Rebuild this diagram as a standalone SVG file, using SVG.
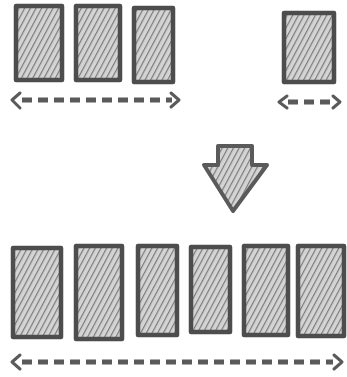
<svg xmlns="http://www.w3.org/2000/svg" width="347" height="377" viewBox="0 0 347 377">
<defs>
<pattern id="hatch" patternUnits="userSpaceOnUse" width="5" height="5" patternTransform="rotate(28)">
<rect width="5" height="5" fill="#d4d4d4"/>
<line x1="0" y1="0" x2="0" y2="5" stroke="#7a7a7a" stroke-width="2.4"/>
</pattern>
</defs>
<style>
.box{fill:url(#hatch);stroke:#4d4d4d;stroke-width:4.5;stroke-linejoin:round}
.dash{fill:none;stroke:#5a5a5a;stroke-width:5;stroke-dasharray:10 6;stroke-linecap:butt}
.head{fill:none;stroke:#5a5a5a;stroke-width:3;stroke-linecap:round;stroke-linejoin:round}
</style>
<rect width="347" height="377" fill="#ffffff"/>
<g id="top-row">
<g id="t1"><rect class="box" x="16" y="6" width="46" height="74"/></g>
<g id="t2"><rect class="box" x="76" y="6" width="44" height="74"/></g>
<g id="t3"><rect class="box" x="134" y="8" width="39" height="74"/></g>
<g id="t4"><rect class="box" x="284" y="13" width="50" height="69"/></g>
</g>
<g id="down-arrow">
<path d="M218,146 L252,146 L252,165 L267,165 L233,211 L204,165 L218,165 Z" fill="url(#hatch)" stroke="#5a5a5a" stroke-width="4" stroke-linejoin="round"/>
</g>
<g id="bottom-row">
<g id="b1"><rect class="box" x="13" y="248" width="48" height="89"/></g>
<g id="b2"><rect class="box" x="76" y="246" width="46" height="93"/></g>
<g id="b3"><rect class="box" x="138" y="246" width="39" height="89"/></g>
<g id="b4"><rect class="box" x="191" y="247" width="39" height="85"/></g>
<g id="b5"><rect class="box" x="244" y="246" width="44" height="89"/></g>
<g id="b6"><rect class="box" x="298" y="246" width="46" height="90"/></g>
</g>
<g id="connectors">
<line class="dash" x1="22" y1="100" x2="172" y2="100"/>
<path class="head" d="M20,93 L12,100 L20,108"/>
<path class="head" d="M171,93 L179,100 L171,107"/>
<line class="dash" x1="288" y1="102" x2="333" y2="102"/>
<path class="head" d="M287,96 L279,102 L287,108"/>
<path class="head" d="M333,96 L340,102 L333,108"/>
<line class="dash" x1="22" y1="362" x2="333" y2="362"/>
<path class="head" d="M20,355 L12,362 L20,369"/>
<path class="head" d="M334,355 L342,362 L334,369"/>
</g>
</svg>
